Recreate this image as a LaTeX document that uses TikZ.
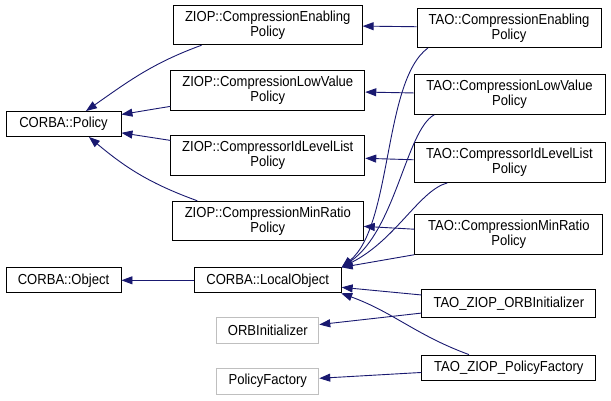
\documentclass[tikz,border=0pt]{standalone}
\usepackage{fontspec}
\setmainfont[FakeStretch=0.9]{Liberation Sans}
\usetikzlibrary{arrows.meta}
\definecolor{edgeblue}{HTML}{191970}

\begin{document}
\begin{tikzpicture}[x=1pt, y=-1pt,
    cls/.style={draw=black, line width=0.9pt, fill=white, align=center,
      inner xsep=2pt, inner ysep=5.5pt, minimum height=25pt,
      font=\fontsize{14.5}{15}\selectfont},
    gcls/.style={cls, draw=black!25},
    edge/.style={draw=edgeblue, line width=0.9pt, -{Triangle[length=11pt,width=8pt]}}]
    \useasboundingbox (0,0) rectangle (611,400);

    % Nodes
    \node[cls, minimum width=115pt] (policy) at (63.5,124) {CORBA::Policy};
    \node[cls, minimum width=115pt] (object) at (63.5,280.3) {CORBA::Object};
    \node[cls, minimum width=189pt] (ziopen) at (267.7,25) {ZIOP::CompressionEnabling\\Policy};
    \node[cls, minimum width=194pt] (zioplow) at (267.8,90.3) {ZIOP::CompressionLowValue\\Policy};
    \node[cls, minimum width=194pt] (ziopid) at (267.8,155.3) {ZIOP::CompressorIdLevelList\\Policy};
    \node[cls, minimum width=191pt] (ziopmin) at (267.8,221) {ZIOP::CompressionMinRatio\\Policy};
    \node[cls, minimum width=147pt] (localobj) at (267.7,280.3) {CORBA::LocalObject};
    \node[gcls, minimum width=102pt, minimum height=26pt] (orbinit) at (267.8,330.3) {ORBInitializer};
    \node[gcls, minimum width=102pt, minimum height=26pt] (polfact) at (267.8,381.2) {PolicyFactory};
    \node[cls, minimum width=184pt] (taoen) at (509,27.8) {TAO::CompressionEnabling\\Policy};
    \node[cls, minimum width=191pt] (taolow) at (509.5,94.7) {TAO::CompressionLowValue\\Policy};
    \node[cls, minimum width=191pt] (taoid) at (509.5,162.7) {TAO::CompressorIdLevelList\\Policy};
    \node[cls, minimum width=188pt] (taomin) at (508.8,234.5) {TAO::CompressionMinRatio\\Policy};
    \node[cls, minimum width=174pt, minimum height=28pt] (taoorb) at (508.8,303.3) {TAO\_ZIOP\_ORBInitializer};
    \node[cls, minimum width=174pt] (taopf) at (508.8,367.5) {TAO\_ZIOP\_PolicyFactory};

    % Edges
    \draw[edge] (ziopen.197) to[out=200,in=35] (policy.30);
    \draw[edge] (zioplow) -- (policy);
    \draw[edge] (ziopid) -- (policy);
    \draw[edge] (ziopmin.164) to[out=160,in=-40] (policy.333);
    \draw[edge] (localobj) -- (object);
    \draw[edge] (taoen) -- (ziopen);
    \draw[edge] (taolow) -- (zioplow);
    \draw[edge] (taoid) -- (ziopid);
    \draw[edge] (taomin) -- (ziopmin);
    \draw[edge] (taoen.194) .. controls +(-45,33) and +(51,-42) .. (localobj.north east);
    \draw[edge] (taolow.195) .. controls +(-28,15.5) and +(54,-37) .. (localobj.north east);
    \draw[edge] (taoid.198) .. controls +(-28,7.5) and +(54,-27) .. (localobj.north east);
    \draw[edge] (taomin.south west) -- (localobj.north east);
    \draw[edge] (taoorb) -- (localobj);
    \draw[edge] (taoorb) -- (orbinit);
    \draw[edge] (taopf.162) to[out=160,in=-20] (localobj.350);
    \draw[edge] (taopf) -- (polfact);
  \end{tikzpicture}
\end{document}
